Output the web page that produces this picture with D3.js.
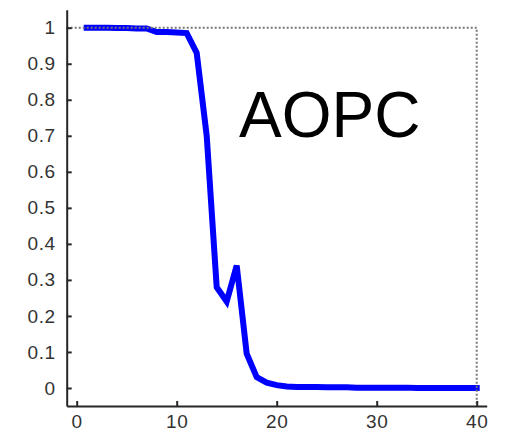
<!DOCTYPE html>
<html>
<head>
<meta charset="utf-8">
<script src="https://cdn.jsdelivr.net/npm/d3@7"></script>
<style>
  body { margin: 0; background: #fff; }
  svg { display: block; }
</style>
</head>
<body>
<svg class="aopc" width="506" height="433"></svg>
<script>
// number of removed features (x) and AOPC value (y)
let steps = [
  1, 2, 3, 4, 5, 6, 7, 8, 9, 10,
  11, 12, 13, 14, 15, 16, 17, 18, 19, 20,
  21, 22, 23, 24, 25, 26, 27, 28, 29, 30,
  31, 32, 33, 34, 35, 36, 37, 38, 39, 40,
]

let aopc = [
  1.0, 1.0, 1.0, 0.999, 0.999, 0.998, 0.998, 0.988, 0.988, 0.987,
  0.985, 0.93, 0.70, 0.28, 0.24, 0.34, 0.095, 0.03, 0.015, 0.008,
  0.004, 0.003, 0.003, 0.003, 0.002, 0.002, 0.002, 0.001, 0.001, 0.001,
  0.001, 0.001, 0.001, 0, 0, 0, 0, 0, 0, 0,
]

let xTicks = [0, 10, 20, 30, 40]
let yTicks = [0, 0.1, 0.2, 0.3, 0.4, 0.5, 0.6, 0.7, 0.8, 0.9, 1]
let title = 'AOPC'

const font = '"Liberation Sans", Arial, Helvetica, sans-serif'
const svg = d3.select('svg.aopc')

const x = d3.scaleLinear()
  .domain([-1, 41])
  .range([66.7, 486.7])

const y = d3.scaleLinear()
  .domain([-0.05, 1.05])
  .range([406, 9.7])

// line first, the dotted box sits on top of it
const line = d3.line()
  .x((d, i) => x(steps[i]))
  .y(d => y(d))

svg.append('path')
  .datum(aopc)
  .attr('d', line)
  .attr('fill', 'none')
  .attr('stroke', '#0000ff')
  .attr('stroke-width', 6)
  .attr('stroke-linecap', 'square')
  .attr('stroke-linejoin', 'miter')

svg.append('path')
  .attr('d', `M${x(-1)},${y(1)}H${x(40)}V${y(-0.05)}`)
  .attr('fill', 'none')
  .attr('stroke', '#777')
  .attr('stroke-width', 2)
  .attr('stroke-dasharray', '2,2')

const xAxis = svg.append('g')
  .attr('transform', `translate(0,${y(-0.05)})`)
  .call(d3.axisBottom(x).tickValues(xTicks).tickSizeInner(-5).tickSizeOuter(0).tickPadding(9))

const yAxis = svg.append('g')
  .attr('transform', `translate(${x(-1)},0)`)
  .call(d3.axisLeft(y).tickValues(yTicks).tickFormat(d3.format('')).tickSizeInner(-5).tickSizeOuter(0).tickPadding(11))

;[xAxis, yAxis].forEach(g => {
  g.attr('font-family', font).attr('font-size', 19)
  g.selectAll('path, line').attr('stroke', '#262626').attr('stroke-width', 2)
  g.selectAll('text').attr('fill', '#333').attr('letter-spacing', '0.6px')
})

svg.append('text')
  .attr('x', 239)
  .attr('y', 137)
  .attr('font-family', font)
  .attr('font-size', 64)
  .attr('fill', '#000')
  .text(title)
</script>
</body>
</html>
